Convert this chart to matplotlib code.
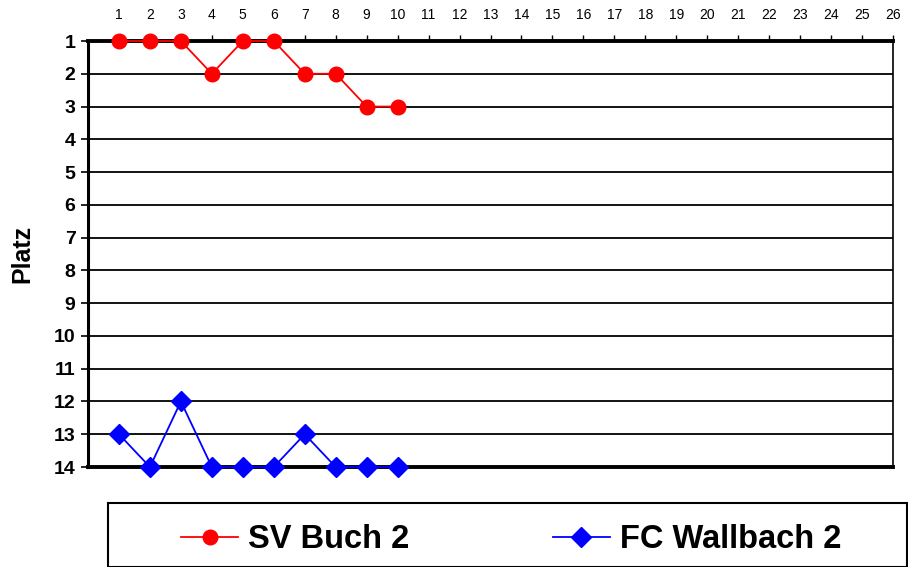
import matplotlib
matplotlib.use('Agg')
import matplotlib.pyplot as plt
from matplotlib.patches import Rectangle
from matplotlib.lines import Line2D

plt.rcParams['font.family'] = ['Liberation Sans', 'DejaVu Sans']

spieltage = list(range(1, 11))
buch = [1, 1, 1, 2, 1, 1, 2, 2, 3, 3]
wallbach = [13, 14, 12, 14, 14, 14, 13, 14, 14, 14]
x_ticks = list(range(1, 27))
y_ticks = list(range(1, 15))
team_names = ['SV Buch 2', 'FC Wallbach 2']

fig = plt.figure(figsize=(9.08, 5.67), dpi=100)
ax = fig.add_axes([88/908, 1-467/567, (893-88)/908, (467-41)/567])

for y in y_ticks:
    ax.axhline(y, color='black', linewidth=1.3, zorder=1)

ax.plot(spieltage, buch, color='#ff0000', linewidth=1.3, marker='o',
        markersize=10.5, markerfacecolor='#ff0000', markeredgecolor='#ff0000', zorder=3, clip_on=False)
ax.plot(spieltage, wallbach, color='#0000ff', linewidth=1.3, marker='D',
        markersize=10.5, markerfacecolor='#0000ff', markeredgecolor='#0000ff', zorder=3, clip_on=False)

ax.set_xlim(0, 26)
ax.set_ylim(14, 1)
ax.xaxis.tick_top()
ax.set_xticks(x_ticks)
ax.set_xticklabels([str(v) for v in x_ticks], fontsize=10)
ax.set_yticks(y_ticks)
ax.set_yticklabels([str(v) for v in y_ticks], fontsize=14, fontweight='bold')
ax.tick_params(axis='x', direction='out', length=4, width=1, pad=10)
ax.tick_params(axis='y', direction='out', length=5, width=1.2, pad=4)

ax.spines['top'].set_linewidth(2.8)
ax.spines['bottom'].set_linewidth(2.8)
ax.spines['left'].set_linewidth(2.2)
ax.spines['right'].set_linewidth(1.2)

ax.set_ylabel('Platz', fontsize=18, fontweight='bold', labelpad=14)

# legend box
fig.patches.append(Rectangle((108/908, 0), (907-108)/908, 1-503/567, transform=fig.transFigure,
                             facecolor='white', edgecolor='black', linewidth=1.5))
handles = [
    Line2D([], [], color='#ff0000', linewidth=1.3, marker='o', markersize=10.5),
    Line2D([], [], color='#0000ff', linewidth=1.3, marker='D', markersize=10.5),
]
fig.legend(handles, team_names, loc='center', bbox_to_anchor=(511/908, 1-540/567),
           ncol=2, frameon=False, handlelength=1.75, handletextpad=0.3, columnspacing=4.4,
           prop={'size': 23.5, 'weight': 'bold'})

fig.savefig('out.png', dpi=100)
